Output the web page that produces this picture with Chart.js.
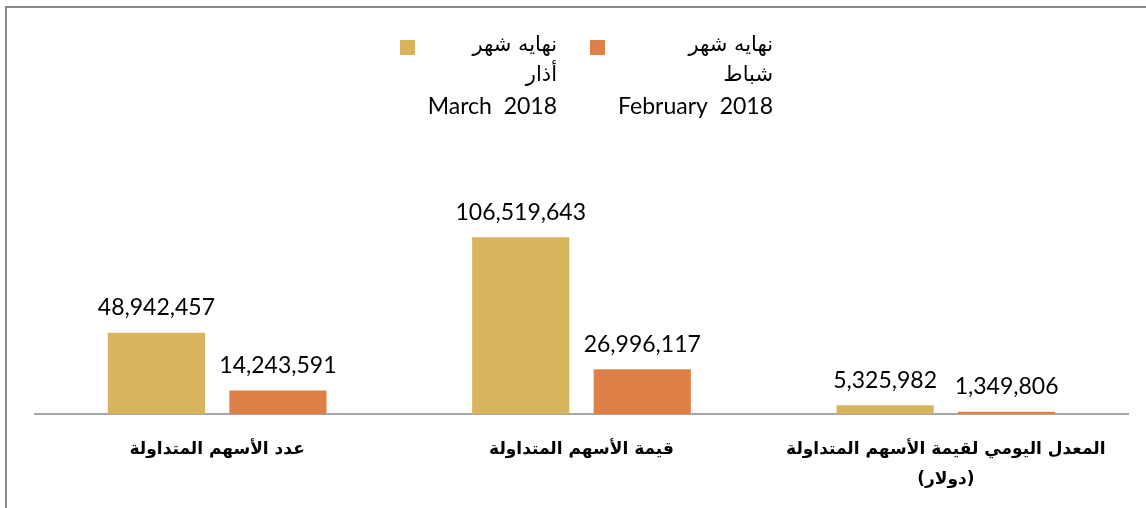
<!DOCTYPE html>
<html>
<head>
<meta charset="utf-8">
<script src="https://cdn.jsdelivr.net/npm/chart.js@4.4.0/dist/chart.umd.min.js"></script>
<style>
  html, body { margin: 0; padding: 0; background: #fff; }
  #wrap { width: 1146px; height: 508px; position: relative; }
</style>
</head>
<body>
<div id="wrap"><canvas id="c"></canvas></div>
<script>
const categories = [
  'عدد الأسهم المتداولة',
  'قيمة الأسهم المتداولة',
  ['المعدل اليومي لقيمة الأسهم المتداولة', '(دولار)']
];
const marchValues = [48942457, 106519643, 5325982];
const februaryValues = [14243591, 26996117, 1349806];
const marchLegend = ['نهايه شهر', 'أذار', 'March  2018'];
const februaryLegend = ['نهايه شهر', 'شباط', 'February  2018'];

const GOLD = '#D9B45E';
const ORANGE = '#DE8048';

// value labels above each bar
const valueLabels = {
  id: 'valueLabels',
  afterDatasetsDraw(chart) {
    const ctx = chart.ctx;
    ctx.save();
    ctx.font = '23px Lato, "Open Sans", sans-serif';
    ctx.fillStyle = '#000';
    ctx.textAlign = 'center';
    ctx.textBaseline = 'middle';
    chart.data.datasets.forEach((ds, i) => {
      chart.getDatasetMeta(i).data.forEach((bar, j) => {
        ctx.fillText(ds.data[j].toLocaleString('en-US'), bar.x, bar.y - 25);
      });
    });
    ctx.restore();
  }
};

// frame + multi-line legend
const frameLegend = {
  id: 'frameLegend',
  afterDraw(chart) {
    const ctx = chart.ctx;
    ctx.save();
    ctx.strokeStyle = '#888';
    ctx.lineWidth = 2;
    ctx.beginPath();
    ctx.moveTo(6, 508);
    ctx.lineTo(6, 7);
    ctx.lineTo(1146, 7);
    ctx.stroke();

    const items = [
      { x: 400, right: 557, color: chart.data.datasets[0].backgroundColor, lines: chart.data.datasets[0].legendLines },
      { x: 590, right: 773, color: chart.data.datasets[1].backgroundColor, lines: chart.data.datasets[1].legendLines }
    ];
    const ys = [46, 76, 107];
    items.forEach(it => {
      ctx.fillStyle = it.color;
      ctx.fillRect(it.x, 40, 15, 15);
      ctx.fillStyle = '#000';
      ctx.textAlign = 'right';
      ctx.textBaseline = 'middle';
      it.lines.forEach((t, k) => {
        ctx.font = k < 2 ? '21px "DejaVu Sans", sans-serif' : '23px Lato, "Open Sans", sans-serif';
        ctx.fillText(t, it.right, ys[k]);
      });
    });
    ctx.restore();
  }
};

new Chart(document.getElementById('c'), {
  type: 'bar',
  data: {
    labels: categories,
    datasets: [
      { label: 'March 2018', legendLines: marchLegend, data: marchValues, backgroundColor: GOLD,
        categoryPercentage: 0.667, barPercentage: 0.8 },
      { label: 'February 2018', legendLines: februaryLegend, data: februaryValues, backgroundColor: ORANGE,
        categoryPercentage: 0.667, barPercentage: 0.8 }
    ]
  },
  options: {
    responsive: true,
    maintainAspectRatio: false,
    animation: false,
    layout: { padding: { left: 35, right: 18, top: 215, bottom: 0 } },
    plugins: {
      legend: { display: false },
      tooltip: { enabled: false }
    },
    scales: {
      x: {
        grid: { display: false, drawTicks: false },
        border: { display: true, color: '#A6A6A6', width: 2 },
        ticks: {
          color: '#000',
          padding: 20,
          maxRotation: 0,
          autoSkip: false,
          font: { family: '"DejaVu Sans", sans-serif', size: 17, weight: 'bold', lineHeight: 1.8 }
        },
        afterFit: (s) => { s.height = 94; }
      },
      y: {
        display: false,
        min: 0,
        max: 120000000
      }
    }
  },
  plugins: [valueLabels, frameLegend]
});
</script>
</body>
</html>
